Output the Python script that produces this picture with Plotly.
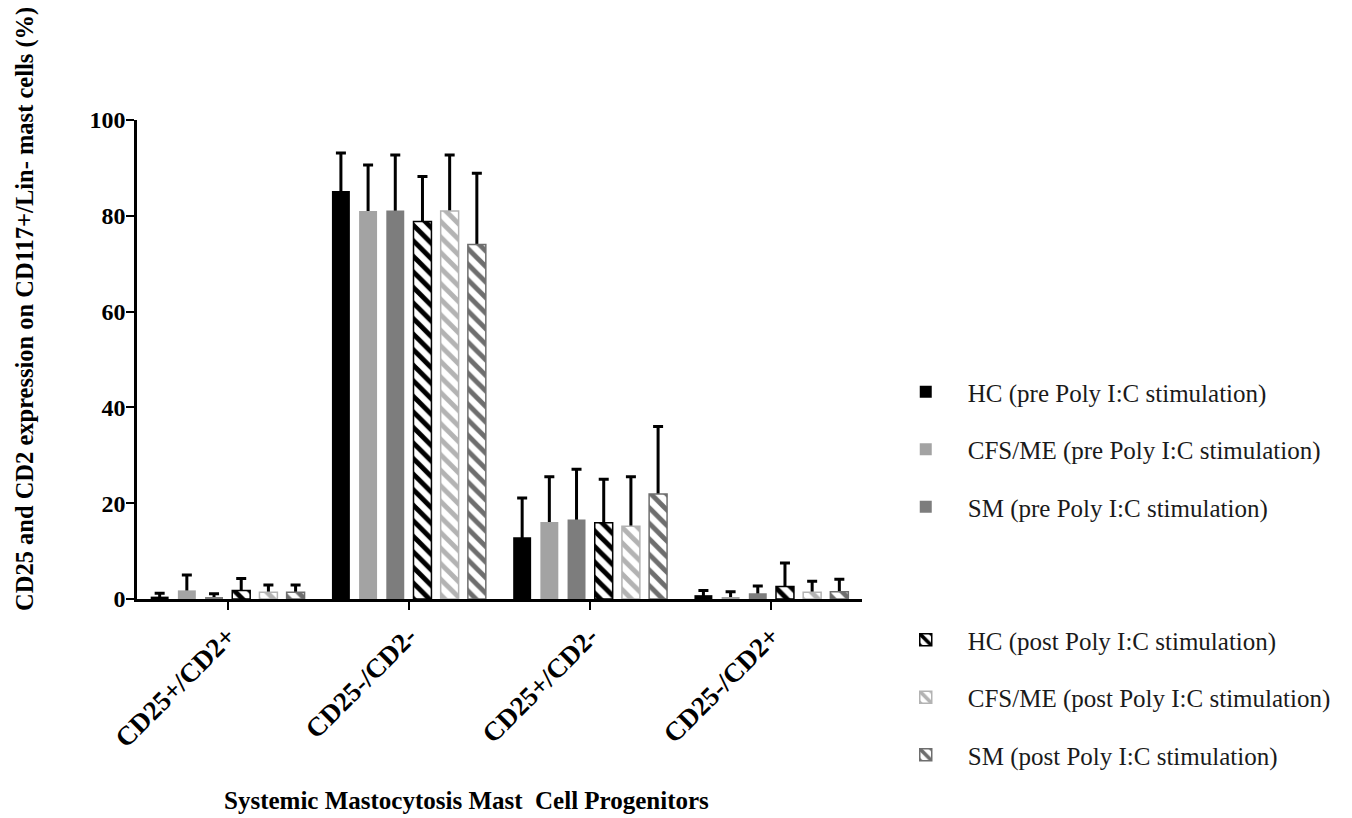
import plotly.graph_objects as go

categories = ["CD25+/CD2+", "CD25-/CD2-", "CD25+/CD2-", "CD25-/CD2+"]

series_names = [
    "HC (pre Poly I:C stimulation)",
    "CFS/ME (pre Poly I:C stimulation)",
    "SM (pre Poly I:C stimulation)",
    "HC (post Poly I:C stimulation)",
    "CFS/ME (post Poly I:C stimulation)",
    "SM (post Poly I:C stimulation)",
]

hc_pre = [0.5, 85.2, 12.9, 0.8]
cfs_pre = [1.8, 81.0, 16.1, 0.3]
sm_pre = [0.4, 81.1, 16.6, 1.2]
hc_post = [1.8, 78.8, 15.9, 2.6]
cfs_post = [1.4, 81.0, 15.2, 1.4]
sm_post = [1.4, 74.0, 21.9, 1.5]

hc_pre_err = [0.7, 7.9, 8.2, 1.0]
cfs_pre_err = [3.2, 9.6, 9.4, 1.2]
sm_pre_err = [0.7, 11.6, 10.5, 1.5]
hc_post_err = [2.5, 9.4, 9.1, 4.9]
cfs_post_err = [1.5, 11.7, 10.3, 2.3]
sm_post_err = [1.5, 14.9, 14.1, 2.6]

values = [hc_pre, cfs_pre, sm_pre, hc_post, cfs_post, sm_post]
errors = [hc_pre_err, cfs_pre_err, sm_pre_err, hc_post_err, cfs_post_err, sm_post_err]

solid_colors = ["#000000", "#a3a3a3", "#7d7d7d"]
stripe_colors = ["#000000", "#b3b3b3", "#6e6e6e"]

SERIF = "Liberation Serif, Times New Roman, serif"

fig = go.Figure()

# error-bar carriers (drawn first so the real bars hide the lower part)
for i in range(6):
    fig.add_trace(go.Bar(
        x=categories, y=values[i], offsetgroup=f"g{i}",
        marker=dict(color="rgba(0,0,0,0)", line=dict(width=0)),
        error_y=dict(type="data", symmetric=False, array=errors[i],
                     arrayminus=values[i], color="black", thickness=3, width=5),
        showlegend=False, hoverinfo="skip",
    ))

# real bars
for i in range(6):
    if i < 3:
        marker = dict(color=solid_colors[i], line=dict(width=0))
        legend = "legend"
    else:
        c = stripe_colors[i - 3]
        marker = dict(color="white", line=dict(color=c, width=1.5),
                      pattern=dict(shape="\\", fgcolor=c, bgcolor="white",
                                   size=11, solidity=0.45, fillmode="replace"))
        legend = "legend2"
    fig.add_trace(go.Bar(
        x=categories, y=values[i], offsetgroup=f"g{i}", name=series_names[i],
        marker=marker, legend=legend, legendgroup=f"lg{i}",
    ))

legend_common = dict(
    font=dict(family=SERIF, size=25, color="#1a1a1a"),
    bgcolor="rgba(0,0,0,0)", borderwidth=0,
    tracegroupgap=22, itemwidth=74, xanchor="left", yanchor="top",
    traceorder="grouped",
)

# page is offset by the 8px body margin; figure sized to fit the window
fig.update_layout(
    width=1344, height=810,
    margin=dict(l=129, r=490, t=112, b=219),
    paper_bgcolor="white", plot_bgcolor="white",
    barmode="group", bargap=0.10, bargroupgap=0.34,
    showlegend=True,
    legend=dict(x=1.03, y=(599 - 369) / 479, **legend_common),
    legend2=dict(x=1.03, y=(599 - 617) / 479, **legend_common),
    xaxis=dict(
        type="category", range=[-0.5, 3.5],
        showline=True, linecolor="black", linewidth=2.5,
        ticks="outside", ticklen=8, tickwidth=2, tickcolor="black",
        tickangle=-45, showgrid=False, zeroline=False,
        tickfont=dict(family=SERIF, size=27, color="black", weight="bold"),
    ),
    yaxis=dict(
        range=[0, 100], tickvals=[0, 20, 40, 60, 80, 100],
        showline=True, linecolor="black", linewidth=2.5,
        ticks="outside", ticklen=8, tickwidth=2, tickcolor="black",
        ticklabelstandoff=-4,
        showgrid=False, zeroline=False,
        tickfont=dict(family=SERIF, size=24, color="black", weight="bold"),
    ),
    annotations=[
        dict(text="<b>CD25 and CD2 expression on CD117+/Lin- mast cells (%)</b>",
             xref="paper", yref="paper", x=(25 - 137) / 725, y=(599 - 309) / 479,
             xanchor="center", yanchor="middle",
             textangle=-90, showarrow=False,
             font=dict(family=SERIF, size=24.5, color="black")),
        dict(text="<b>Systemic Mastocytosis Mast  Cell Progenitors</b>",
             xref="paper", yref="paper", x=(466 - 137) / 725, y=(599 - 800) / 479,
             xanchor="center", yanchor="middle",
             showarrow=False,
             font=dict(family=SERIF, size=25, color="black")),
    ],
)

fig.write_html("out.html")
